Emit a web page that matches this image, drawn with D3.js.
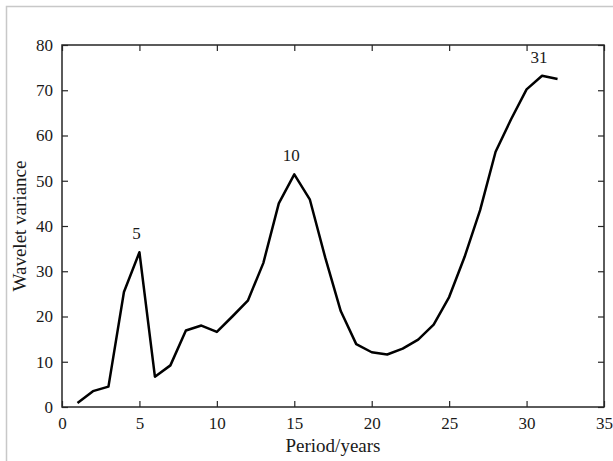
<!doctype html>
<html lang="en">
  <head>
    <meta charset="utf-8">
    <title>Wavelet variance</title>
    <script src="https://cdnjs.cloudflare.com/ajax/libs/d3/7.8.5/d3.min.js"></script>
    <style>
      html, body { margin: 0; padding: 0; background: #fff; }
    </style>
  </head>
  <body>
    <div id="chart"></div>
    <script>
      // period (years) and wavelet variance
      var periods = [1, 2, 3, 4, 5, 6, 7, 8, 9, 10, 11, 12, 13, 14, 15, 16,
                     17, 18, 19, 20, 21, 22, 23, 24, 25, 26, 27, 28, 29, 30, 31, 32];
      var variance = [0.9, 3.5, 4.5, 25.4, 34.2, 6.7, 9.2, 16.9, 18.0, 16.6, 20.0, 23.5,
                      31.8, 45.0, 51.4, 45.9, 33.0, 21.2, 13.9, 12.1, 11.6, 12.9, 14.9, 18.2,
                      24.3, 33.2, 43.5, 56.4, 63.6, 70.2, 73.2, 72.5];
      var xTicks = [0, 5, 10, 15, 20, 25, 30, 35];
      var yTicks = [0, 10, 20, 30, 40, 50, 60, 70, 80];
      var peakLabels = ["5", "10", "31"];
      var peakPeriods = [5, 15, 31];

      var serif = "'Liberation Serif', 'Times New Roman', Times, serif";
      var width = 613, height = 461;
      var margin = {top: 45, right: 9, bottom: 54, left: 62};
      var w = width - margin.left - margin.right;
      var h = height - margin.top - margin.bottom;

      var svg = d3.select("#chart").append("svg")
          .attr("width", width)
          .attr("height", height)
          .attr("font-family", serif);

      // light grey frame round the figure
      svg.append("path")
          .attr("d", "M6.5," + height + "V6.5H" + width)
          .attr("fill", "none")
          .attr("stroke", "#c8c8c8")
          .attr("stroke-width", 1.5);

      var g = svg.append("g")
          .attr("transform", "translate(" + margin.left + "," + margin.top + ")");

      var x = d3.scaleLinear().domain([0, 35]).range([0, w]);
      var y = d3.scaleLinear().domain([0, 80]).range([h, 0]);

      // ticks point inwards on all four sides, like a boxed matlab plot
      function styleAxis(sel) {
        sel.attr("font-family", serif).attr("font-size", 17);
        sel.select(".domain").remove();
        sel.selectAll(".tick line").attr("stroke", "#262626").attr("stroke-width", 1.2);
        sel.selectAll("text").attr("fill", "#1a1a1a");
      }

      g.append("g")
          .attr("transform", "translate(0," + h + ")")
          .call(d3.axisBottom(x).tickValues(xTicks).tickSize(-6).tickPadding(10).tickFormat(d3.format("d")))
          .call(styleAxis);
      g.append("g")
          .call(d3.axisTop(x).tickValues(xTicks).tickSize(-6).tickFormat(""))
          .call(styleAxis);
      g.append("g")
          .call(d3.axisLeft(y).tickValues(yTicks).tickSize(-6).tickPadding(9).tickFormat(d3.format("d")))
          .call(styleAxis);
      g.append("g")
          .attr("transform", "translate(" + w + ",0)")
          .call(d3.axisRight(y).tickValues(yTicks).tickSize(-6).tickFormat(""))
          .call(styleAxis);

      g.append("rect")
          .attr("width", w)
          .attr("height", h)
          .attr("fill", "none")
          .attr("stroke", "#262626")
          .attr("stroke-width", 1.5);

      var line = d3.line()
          .x(function(d, i) { return x(periods[i]); })
          .y(function(d) { return y(d); });

      g.append("path")
          .datum(variance)
          .attr("d", line)
          .attr("fill", "none")
          .attr("stroke", "#000")
          .attr("stroke-width", 2.5)
          .attr("stroke-linejoin", "round");

      // peak annotations
      g.selectAll(".peak")
          .data(peakLabels)
          .enter().append("text")
          .attr("class", "peak")
          .attr("x", function(d, i) { return x(peakPeriods[i]) - 3; })
          .attr("y", function(d, i) { return y(variance[periods.indexOf(peakPeriods[i])]) - 13; })
          .attr("text-anchor", "middle")
          .attr("font-size", 17)
          .attr("fill", "#1a1a1a")
          .text(function(d) { return d; });

      svg.append("text")
          .attr("x", margin.left + w / 2)
          .attr("y", height - 9)
          .attr("text-anchor", "middle")
          .attr("font-size", 19)
          .attr("fill", "#1a1a1a")
          .text("Period/years");

      svg.append("text")
          .attr("transform", "translate(26," + (margin.top + h / 2) + ") rotate(-90)")
          .attr("text-anchor", "middle")
          .attr("font-size", 19)
          .attr("fill", "#1a1a1a")
          .text("Wavelet variance");
    </script>
  </body>
</html>
